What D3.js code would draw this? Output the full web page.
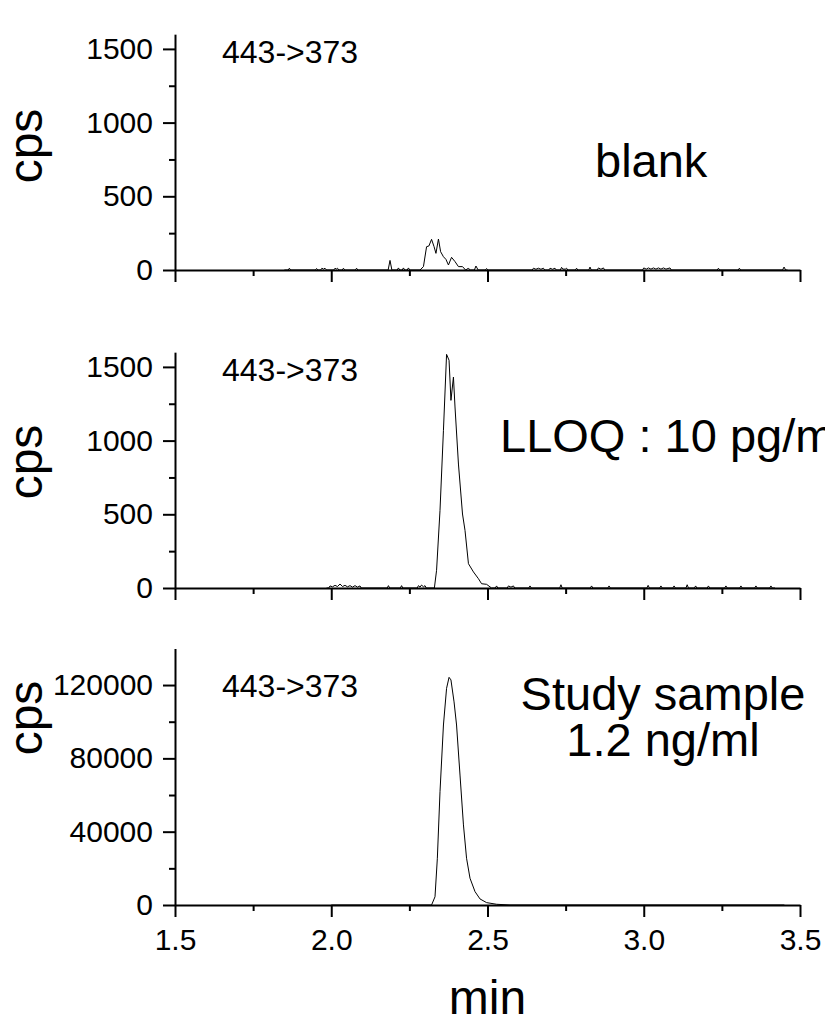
<!DOCTYPE html>
<html>
<head>
<meta charset="utf-8">
<script src="https://cdn.jsdelivr.net/npm/d3@7"></script>
<style>
  body { margin: 0; background: #fff; }
  svg { display: block; font-family: "Liberation Sans", Arial, Helvetica, sans-serif; }
</style>
</head>
<body>
<svg id="chart" width="825" height="1023"></svg>
<script>
// x ticks (min)
const xMajor = [1.5, 2.0, 2.5, 3.0, 3.5];
const xMinor = [1.75, 2.25, 2.75, 3.25];

// blank trace
const blankTime = [1.85, 1.862, 1.866, 1.870, 1.949, 1.953, 1.957, 1.966, 1.970, 1.975, 1.980, 1.985,
  2.008, 2.012, 2.016, 2.020, 2.024, 2.035, 2.039, 2.043, 2.077, 2.081, 2.085,
  2.182, 2.188, 2.194, 2.211, 2.215, 2.219, 2.227, 2.231, 2.235, 2.243, 2.247, 2.251,
  2.284, 2.295, 2.305, 2.3125, 2.321, 2.329, 2.335, 2.343, 2.350, 2.359, 2.367, 2.375, 2.385, 2.396, 2.407, 2.420, 2.430, 2.438, 2.446,
  2.458, 2.463, 2.470, 2.493, 2.497, 2.501,
  2.643, 2.647, 2.655, 2.663, 2.671, 2.679, 2.683, 2.696, 2.700, 2.708, 2.716, 2.720, 2.733, 2.737, 2.741, 2.749, 2.753, 2.757,
  2.781, 2.785, 2.789, 2.824, 2.828, 2.832, 2.851, 2.855, 2.863, 2.871, 2.875,
  2.996, 3.000, 3.008, 3.015, 3.023, 3.031, 3.039, 3.047, 3.055, 3.063, 3.071, 3.084, 3.088,
  3.235, 3.239, 3.243, 3.302, 3.306, 3.310, 3.444, 3.449, 3.454, 3.46];
const blankCps = [0, 0, 12, 0, 0, 10, 0, 0, 12, 6, 12, 0,
  0, 12, 6, 12, 0, 0, 12, 0, 0, 12, 0,
  0, 65, 0, 0, 14, 0, 0, 14, 0, 0, 14, 0,
  0, 23, 158, 163, 208, 158, 113, 210, 124, 90, 72, 34, 86, 57, 23, 23, 0, 11, 0,
  0, 27, 0, 0, 10, 0,
  0, 12, 5, 12, 5, 12, 0, 0, 12, 5, 12, 0, 0, 18, 6, 6, 12, 0,
  0, 12, 0, 0, 20, 0, 0, 14, 5, 14, 0,
  0, 14, 6, 14, 6, 14, 6, 14, 6, 14, 6, 14, 0,
  0, 12, 0, 0, 12, 0, 0, 20, 0, 0];

// LLOQ trace
const lloqTime = [1.985, 1.992, 1.996, 2.004, 2.012, 2.020, 2.028, 2.036, 2.044, 2.052, 2.060, 2.068, 2.076, 2.084, 2.092, 2.096,
  2.179, 2.183, 2.187, 2.221, 2.225, 2.229, 2.275, 2.279, 2.284, 2.289, 2.295, 2.300, 2.304,
  2.330, 2.337, 2.348, 2.359, 2.369, 2.377, 2.383, 2.391, 2.396, 2.407, 2.420, 2.428, 2.439, 2.455, 2.471, 2.481, 2.497, 2.513,
  2.525, 2.529, 2.533, 2.563, 2.567, 2.575, 2.583, 2.587, 2.632, 2.636, 2.640,
  2.731, 2.735, 2.739, 2.829, 2.833, 2.837, 2.885, 2.889, 2.893, 3.010, 3.014, 3.018,
  3.051, 3.055, 3.059, 3.093, 3.097, 3.101, 3.135, 3.139, 3.143, 3.162, 3.166, 3.170, 3.203, 3.207, 3.211,
  3.259, 3.263, 3.267, 3.307, 3.311, 3.315, 3.355, 3.359, 3.363, 3.403, 3.407, 3.411, 3.42];
const lloqCps = [0, 0, 14, 8, 18, 10, 27, 10, 18, 8, 16, 6, 16, 6, 14, 0,
  0, 16, 0, 0, 16, 0, 0, 16, 6, 20, 8, 16, 0,
  0, 120, 527, 1070, 1585, 1545, 1273, 1431, 1228, 841, 502, 391, 165, 109, 63, 29, 25, 0,
  0, 14, 0, 0, 14, 6, 14, 0, 0, 14, 0,
  0, 22, 0, 0, 14, 0, 0, 14, 0, 0, 18, 0,
  0, 14, 0, 0, 14, 0, 0, 22, 0, 0, 14, 0, 0, 14, 0,
  0, 14, 0, 0, 14, 0, 0, 14, 0, 0, 14, 0, 0];

// study sample trace
const sampleTime = [2.0, 2.321, 2.332, 2.3395, 2.348, 2.359, 2.369, 2.377, 2.383, 2.393, 2.401, 2.412, 2.423, 2.433, 2.444, 2.460, 2.476, 2.497, 2.529, 2.572, 3.45];
const sampleCps = [0, 0, 4500, 25500, 61800, 98200, 118200, 124200, 122800, 110800, 98200, 70900, 43700, 25500, 14600, 7300, 3300, 1300, 400, 0, 0];

const transition = "443->373";
const panelTags = [["blank"], ["LLOQ : 10 pg/ml"], ["Study sample", "1.2 ng/ml"]];

const panels = [
  { time: blankTime, cps: blankCps, yMax: 1600, yMajor: [0, 500, 1000, 1500], yMinor: [250, 750, 1250],
    base: 270, unit: 0.1474, cpsY: 146, tagY: 63,
    tag: { x: 595, anchor: "start", y: [177] } },
  { time: lloqTime, cps: lloqCps, yMax: 1600, yMajor: [0, 500, 1000, 1500], yMinor: [250, 750, 1250],
    base: 588, unit: 0.1474, cpsY: 462, tagY: 381,
    tag: { x: 500, anchor: "start", y: [452] } },
  { time: sampleTime, cps: sampleCps, yMax: 140000, yMajor: [0, 40000, 80000, 120000], yMinor: [20000, 60000, 100000],
    base: 905, unit: 0.001833, cpsY: 718, tagY: 697,
    tag: { x: 663, anchor: "middle", y: [710, 756] } }
];

const svg = d3.select("#chart");
const x = d3.scaleLinear().domain([1.5, 3.5]).range([175, 800]);

panels.forEach((p, i) => {
  const y = d3.scaleLinear().domain([0, p.yMax]).range([p.base, p.base - p.yMax * p.unit]);
  const last = i === panels.length - 1;

  // x axis
  const gx = svg.append("g").attr("transform", `translate(0,${p.base})`);
  gx.call(d3.axisBottom(x).tickValues(xMajor).tickSize(12).tickSizeOuter(0).tickPadding(12)
    .tickFormat(last ? d3.format(".1f") : ""));
  gx.append("g").call(d3.axisBottom(x).tickValues(xMinor).tickSize(6).tickSizeOuter(0).tickFormat(""))
    .select(".domain").remove();

  // y axis
  const gy = svg.append("g").attr("transform", "translate(175,0)");
  gy.call(d3.axisLeft(y).tickValues(p.yMajor).tickSize(12).tickSizeOuter(0).tickPadding(10)
    .tickFormat(d3.format("d")));
  gy.append("g").call(d3.axisLeft(y).tickValues(p.yMinor).tickSize(6).tickSizeOuter(0).tickFormat(""))
    .select(".domain").remove();

  // trace
  const line = d3.line().x((d, k) => x(p.time[k])).y(d => y(d));
  svg.append("path")
    .datum(p.cps)
    .attr("d", line)
    .attr("fill", "none")
    .attr("stroke", "#000")
    .attr("stroke-width", 1);

  // y label
  svg.append("text")
    .attr("transform", `translate(42,${p.cpsY}) rotate(-90)`)
    .attr("text-anchor", "middle")
    .attr("font-size", 48)
    .text("cps");

  // MRM transition
  svg.append("text")
    .attr("x", 222)
    .attr("y", p.tagY)
    .attr("font-size", 32)
    .text(transition);

  // sample tag
  panelTags[i].forEach((t, k) => {
    svg.append("text")
      .attr("x", p.tag.x)
      .attr("y", p.tag.y[k])
      .attr("text-anchor", p.tag.anchor)
      .attr("font-size", 47)
      .text(t);
  });
});

svg.selectAll(".domain, .tick line").attr("stroke", "#000").attr("stroke-width", 2);
svg.selectAll(".tick text").attr("font-size", 30).attr("fill", "#000")
  .attr("font-family", "'Liberation Sans', Arial, sans-serif");

// x label
svg.append("text")
  .attr("x", 487.5)
  .attr("y", 1014)
  .attr("text-anchor", "middle")
  .attr("font-size", 48)
  .text("min");
</script>
</body>
</html>
